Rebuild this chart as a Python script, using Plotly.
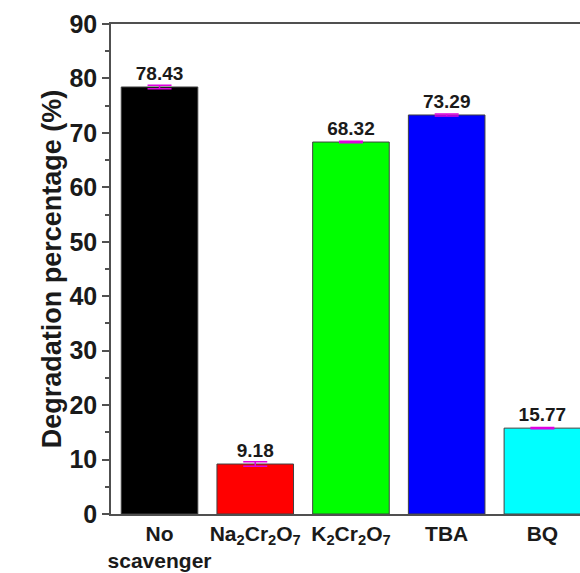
import plotly.graph_objects as go

categories = ["No<br>scavenger", "Na<sub>2</sub>Cr<sub>2</sub>O<sub>7</sub>",
              "K<sub>2</sub>Cr<sub>2</sub>O<sub>7</sub>", "TBA", "BQ"]
values = [78.43, 9.18, 68.32, 73.29, 15.77]
errors = [0.3, 0.4, 0.15, 0.2, 0.1]
labels = ["78.43", "9.18", "68.32", "73.29", "15.77"]
colors = ["#000000", "#FF0000", "#00FF00", "#0000FF", "#00FFFF"]
y_ticks = [0, 10, 20, 30, 40, 50, 60, 70, 80, 90]

FONT = "Liberation Sans, Arial, sans-serif"
AXC = "#505050"

fig = go.Figure()
fig.add_trace(go.Bar(
    x=list(range(len(categories))),
    y=values,
    width=0.8,
    marker=dict(color=colors, line=dict(color="#404040", width=1)),
    error_y=dict(type="data", array=errors, visible=True,
                 color="#E000E0", thickness=1.5, width=12),
    text=labels,
    textposition="outside",
    textfont=dict(family=FONT, size=19, color="#1a1a1a", weight="bold"),
    constraintext="none",
    cliponaxis=False,
    showlegend=False,
))

fig.update_layout(
    width=580, height=573,
    margin=dict(l=111, r=0, t=24, b=59),
    plot_bgcolor="white", paper_bgcolor="white",
    bargap=0.2,
)
fig.update_xaxes(
    range=[-0.507, 4.393],
    tickvals=list(range(len(categories))),
    ticktext=categories,
    ticks="", tickangle=0, automargin=False,
    showgrid=False, zeroline=False,
    showline=True, linecolor=AXC, linewidth=1.5, mirror=True,
    tickfont=dict(family=FONT, size=21, color="#1a1a1a", weight="bold"),
)
fig.update_yaxes(
    range=[0, 90], automargin=False,
    tickvals=y_ticks,
    ticks="outside", ticklen=7, tickwidth=1.5, tickcolor=AXC,
    minor=dict(dtick=5, ticks="outside", ticklen=4, tickwidth=1.5, tickcolor=AXC),
    showgrid=False, zeroline=False,
    showline=True, linecolor=AXC, linewidth=1.5,
    tickfont=dict(family=FONT, size=25, color="#1a1a1a", weight="bold"),
    title=dict(text="Degradation percentage (%)",
               font=dict(family=FONT, size=27, color="#1a1a1a", weight="bold"),
               standoff=0),
)

fig.write_html("out.html")
